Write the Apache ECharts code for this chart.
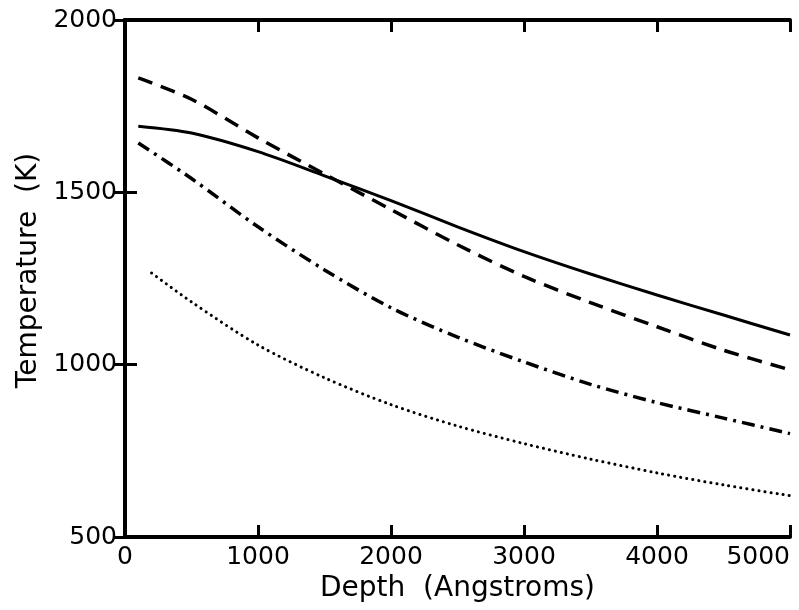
<!DOCTYPE html>
<html>
<head>
<meta charset="utf-8">
<script src="https://cdn.jsdelivr.net/npm/echarts@6/dist/echarts.min.js"></script>
<style>
html,body{margin:0;padding:0;background:#fff;}
#chart{width:799px;height:610px;}
</style>
</head>
<body>
<div id="chart"></div>
<script>
// Depth (Angstroms) sample positions and temperatures (K)
const depthMain = [100, 500, 1000, 1500, 2000, 2500, 3000, 3500, 4000, 4500, 5000];
const solidT    = [1692, 1672, 1618, 1548, 1476, 1400, 1328, 1263, 1202, 1144, 1086];
const dashedT   = [1832, 1770, 1658, 1553, 1450, 1348, 1256, 1180, 1110, 1042, 985];
const dashDotT  = [1643, 1540, 1400, 1275, 1165, 1080, 1008, 943, 890, 845, 800];
const depthDot  = [200, 500, 1000, 1500, 2000, 2500, 3000, 3500, 4000, 4500, 5000];
const dottedT   = [1266, 1182, 1057, 962, 884, 822, 771, 726, 686, 651, 620];
const xTicks = [0, 1000, 2000, 3000, 4000, 5000];
const yTicks = [500, 1000, 1500, 2000];

const pair = (xs, ys) => xs.map((x, i) => [x, ys[i]]);
const font = 'DejaVu Sans';
const axisLine = {show: true, lineStyle: {color: '#000', width: 4}};
const tick = {show: true, inside: true, length: 12, lineStyle: {color: '#000', width: 3}};
const plain = v => String(v);

function line(data, type, width, cap) {
  return {
    type: 'line', data: data, smooth: 0.3, symbol: 'none',
    xAxisIndex: 0, yAxisIndex: 0,
    lineStyle: {color: '#000', width: width, type: type, cap: cap || 'butt'},
    z: 3
  };
}

const chart = echarts.init(document.getElementById('chart'), null, {renderer: 'canvas'});
chart.setOption({
  animation: false,
  backgroundColor: '#fff',
  grid: {left: 125, right: 9, top: 20, bottom: 73, containLabel: false},
  xAxis: [{
    type: 'value', min: xTicks[0], max: xTicks[xTicks.length - 1], interval: 1000,
    position: 'bottom',
    name: 'Depth  (Angstroms)', nameLocation: 'middle', nameGap: 25,
    nameTextStyle: {fontFamily: font, fontSize: 28, color: '#000'},
    axisLine: axisLine, axisTick: tick,
    axisLabel: {fontFamily: font, fontSize: 25, color: '#000', margin: 8, alignMaxLabel: 'right', formatter: plain},
    splitLine: {show: false}
  }, {
    type: 'value', min: xTicks[0], max: xTicks[xTicks.length - 1], interval: 1000,
    position: 'top',
    axisLine: axisLine, axisTick: tick, axisLabel: {show: false}, splitLine: {show: false}
  }],
  yAxis: [{
    type: 'value', min: yTicks[0], max: yTicks[yTicks.length - 1], interval: 500,
    position: 'left',
    name: 'Temperature  (K)', nameLocation: 'middle', nameGap: 74, nameRotate: 90,
    nameTextStyle: {fontFamily: font, fontSize: 28, color: '#000', padding: [0, 0, 0, 16]},
    axisLine: axisLine, axisTick: tick,
    axisLabel: {fontFamily: font, fontSize: 25, color: '#000', margin: 8, formatter: plain},
    splitLine: {show: false}
  }, {
    type: 'value', min: yTicks[0], max: yTicks[yTicks.length - 1], interval: 500,
    position: 'right',
    axisLine: axisLine, axisTick: tick, axisLabel: {show: false}, splitLine: {show: false}
  }],
  series: [
    line(pair(depthMain, solidT), 'solid', 3),
    line(pair(depthMain, dashedT), [15, 9], 3.5),
    line(pair(depthMain, dashDotT), [13, 6, 3, 6], 3.5),
    line(pair(depthDot, dottedT), [0.1, 6], 3, 'round')
  ]
});
</script>
</body>
</html>
